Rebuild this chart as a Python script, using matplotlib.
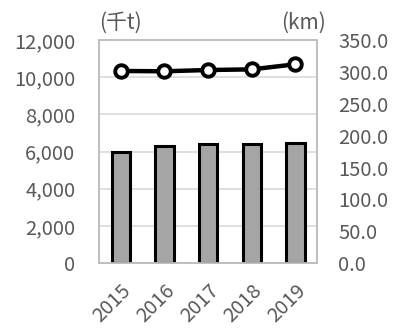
import matplotlib
matplotlib.use("Agg")
import matplotlib.pyplot as plt
from matplotlib.ticker import FuncFormatter
from matplotlib.transforms import ScaledTranslation

plt.rcParams['font.family'] = ['Noto Sans CJK JP', 'DejaVu Sans']

years = ["2015", "2016", "2017", "2018", "2019"]
volume_kt = [5970, 6300, 6390, 6390, 6480]
length_km = [301.5, 301.0, 303.0, 304.0, 312.0]

fig = plt.figure(figsize=(3.96, 3.31), dpi=100)
ax = fig.add_axes([0.25, 0.205, 0.551, 0.674])
ax2 = ax.twinx()

x = range(len(years))
ax.bar(x, volume_kt, width=0.42, color="#a5a5a5", edgecolor="black", linewidth=2.2, zorder=3)
ax.set_ylim(0, 12000)
ax.set_yticks(range(0, 12001, 2000))
ax.yaxis.set_major_formatter(FuncFormatter(lambda v, p: f"{int(v):,}"))
ax.set_xlim(-0.5, len(years) - 0.5)
ax.set_xticks(list(x))
ax.set_xticklabels(years, rotation=45, ha="right", va="top", rotation_mode="anchor")
shift = ScaledTranslation(-4 / 100, 0, fig.dpi_scale_trans)
for lbl in ax.get_xticklabels():
    lbl.set_transform(lbl.get_transform() + shift)
ax.grid(axis="y", color="#d9d9d9", linewidth=1.2, zorder=0)
ax.set_axisbelow(True)

ax2.plot(list(x), length_km, color="black", linewidth=3.2, marker="o", markersize=9,
         markerfacecolor="white", markeredgecolor="black", markeredgewidth=2.8, zorder=4)
ax2.set_ylim(0, 350)
ax2.set_yticks(range(0, 351, 50))
ax2.yaxis.set_major_formatter(FuncFormatter(lambda v, p: f"{v:.1f}"))

for a in (ax, ax2):
    for s in a.spines.values():
        s.set_color("#bfbfbf")
        s.set_linewidth(1.3)
    a.tick_params(length=0, labelsize=14.5, colors="#595959")
ax.tick_params(axis="y", pad=17)
ax.tick_params(axis="x", pad=12)
ax2.tick_params(axis="y", pad=15)

fig.text(0.25, 0.898, "(千t)", fontsize=15, color="#595959", ha="left", va="bottom")
fig.text(0.823, 0.898, "(km)", fontsize=15, color="#595959", ha="right", va="bottom")

fig.savefig("out.png", dpi=100)
